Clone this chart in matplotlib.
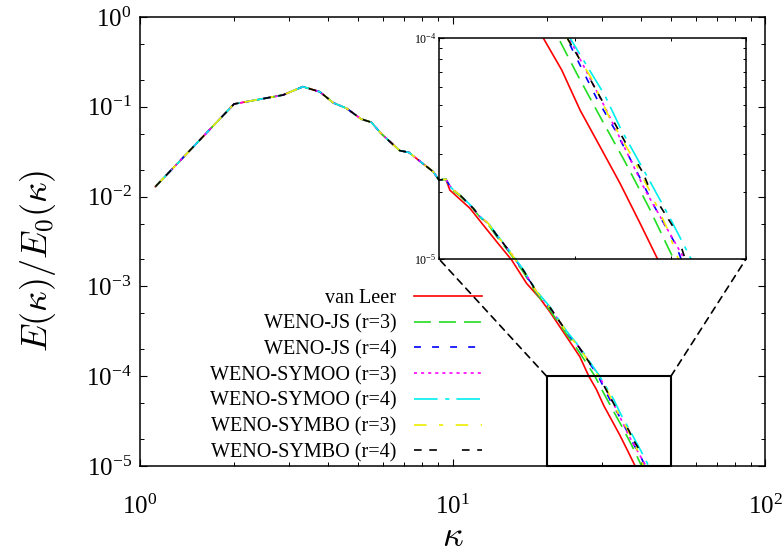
import matplotlib
matplotlib.use("Agg")
import matplotlib.pyplot as plt
from matplotlib.ticker import LogLocator, NullFormatter
from matplotlib.patches import Rectangle, ConnectionPatch

plt.rcParams['font.family'] = ['Liberation Serif', 'DejaVu Serif']
plt.rcParams['mathtext.fontset'] = 'stix'
plt.rcParams['lines.scale_dashes'] = False
plt.rcParams['xtick.direction'] = 'in'
plt.rcParams['ytick.direction'] = 'in'
plt.rcParams['xtick.top'] = True
plt.rcParams['ytick.right'] = True

# ---------------- data ----------------
labels = ["van Leer", "WENO-JS (r=3)", "WENO-JS (r=4)", "WENO-SYMOO (r=3)",
          "WENO-SYMOO (r=4)", "WENO-SYMBO (r=3)", "WENO-SYMBO (r=4)"]
colors = ["#ff0000", "#22dd22", "#0000ff", "#ff00ff", "#00eeee", "#eeee00", "#000000"]

# part where all spectra coincide
k_low = [1.12, 2.0, 2.87, 3.32, 3.76, 4.15, 4.58, 5.1, 5.5, 5.93, 6.78, 7.25, 7.85, 8.68, 9.05, 9.52]
E_low = [0.0129, 0.1075, 0.1353, 0.1675, 0.147, 0.111, 0.0962, 0.0731, 0.0672, 0.0498,
         0.0325, 0.0311, 0.0249, 0.0189, 0.0153, 0.0156]

k_vanleer = [9.81, 11.37, 12.54, 13.84, 15.46, 17.26, 19.04, 20.5, 23.17, 25.55, 27.3,
             28.85, 30.47, 32.35, 34.33, 36.45, 38.4, 40.0]
E_vanleer = [0.0118, 0.00741, 0.00483, 0.00315, 0.00197, 0.00108, 0.000737, 0.00052,
             0.000275, 0.000165, 1.0e-4, 7.16e-5, 4.72e-5, 3.22e-5, 2.2e-5, 1.45e-5, 1.0e-5, 7.5e-6]

k_js3 = [9.9, 10.56, 11.65, 12.24, 13.01, 13.84, 15.26, 16.84, 18.58, 20.6, 23.17, 25.55,
         28.56, 30.16, 32.34, 34.85, 37.36, 39.86, 40.3, 42.0]
E_js3 = [0.0121, 0.0102, 0.0073, 0.0059, 0.0049, 0.0036, 0.00235, 0.00145, 0.00083, 0.00053,
         0.000295, 0.000182, 1.0e-4, 6.92e-5, 4.41e-5, 2.75e-5, 1.73e-5, 1.08e-5, 1.0e-5, 7.7e-6]

k_js4 = [9.93, 10.56, 11.65, 12.24, 13.01, 13.84, 15.26, 16.84, 18.58, 20.6, 23.17, 25.55,
         29.28, 30.01, 32.02, 33.82, 36.0, 38.1, 40.5, 41.2, 43.0]
E_js4 = [0.0123, 0.0104, 0.0074, 0.00595, 0.00502, 0.00372, 0.00242, 0.0015, 0.00086, 0.000565,
         0.00031, 0.000202, 1.0e-4, 8.38e-5, 5.33e-5, 3.84e-5, 2.53e-5, 1.71e-5, 1.17e-5, 1.0e-5, 7.7e-6]

k_symoo3 = [9.93, 10.56, 11.65, 12.24, 13.01, 13.84, 15.26, 16.84, 18.58, 20.6, 23.17, 25.55,
            29.5, 32.96, 37.0, 41.27, 41.6, 43.5]
E_symoo3 = [0.0124, 0.0104, 0.0074, 0.006, 0.00505, 0.00374, 0.00244, 0.00152, 0.00087, 0.00057,
            0.000312, 0.000205, 1.0e-4, 4.72e-5, 2.05e-5, 1.05e-5, 1.0e-5, 7.6e-6]

k_symoo4 = [9.93, 10.56, 11.65, 12.24, 13.01, 13.84, 15.26, 16.84, 18.58, 20.6, 23.17, 25.55,
            29.57, 32.79, 34.46, 37.55, 40.06, 42.44, 44.0]
E_symoo4 = [0.0124, 0.0105, 0.0075, 0.006, 0.0051, 0.00378, 0.00247, 0.00154, 0.00089, 0.00058,
            0.000318, 0.00021, 1.0e-4, 5.52e-5, 3.84e-5, 2.24e-5, 1.48e-5, 1.0e-5, 7.8e-6]

k_symbo3 = [9.93, 10.56, 11.65, 12.24, 13.01, 13.84, 15.26, 16.84, 18.58, 20.6, 23.17, 25.55,
            29.3, 31.5, 33.22, 35.5, 37.55, 39.5, 40.85, 42.5]
E_symbo3 = [0.0123, 0.0104, 0.0074, 0.006, 0.00503, 0.00373, 0.00243, 0.00151, 0.00087, 0.000568,
            0.000311, 0.000203, 1.0e-4, 6.6e-5, 4.4e-5, 2.95e-5, 2.02e-5, 1.38e-5, 1.0e-5, 7.7e-6]

k_symbo4 = [9.93, 10.56, 11.65, 12.24, 13.01, 13.84, 15.26, 16.84, 18.58, 20.6, 23.17, 25.55,
            29.42, 30.3, 31.7, 32.6, 35.03, 36.8, 37.55, 40.6, 41.7, 43.5]
E_symbo4 = [0.01237, 0.01042, 0.00741, 0.00597, 0.00505, 0.00374, 0.00244, 0.00152, 0.000873,
            0.00057, 0.000313, 0.000205, 9.8e-5, 8.23e-5, 6.13e-5, 5.15e-5, 3.28e-5, 2.44e-5,
            2.05e-5, 1.33e-5, 1.0e-5, 7.5e-6]

tails_k = [k_vanleer, k_js3, k_js4, k_symoo3, k_symoo4, k_symbo3, k_symbo4]
tails_E = [E_vanleer, E_js3, E_js4, E_symoo3, E_symoo4, E_symbo3, E_symbo4]

styles = [
    dict(linestyle='-'),
    dict(dashes=(12.2, 5.8)),
    dict(dashes=(5.0, 8.0)),
    dict(dashes=(2.2, 2.9)),
    dict(dashes=(17.0, 5.5, 3.0, 5.0)),
    dict(dashes=(9.0, 9.0, 3.0, 9.0)),
    dict(dashes=(5.5, 5.5, 5.5, 18.0)),
]

# ---------------- figure ----------------
W, H = 783, 556
fig = plt.figure(figsize=(W / 100, H / 100), dpi=100)
L, R, T, B = 140, 765, 17, 466
ax = fig.add_axes([L / W, 1 - B / H, (R - L) / W, (B - T) / H])

def style_axes(a, major_len, minor_len):
    for s in a.spines.values():
        s.set_linewidth(1.1)
    a.tick_params(which='major', length=major_len, width=0.8)
    a.tick_params(which='minor', length=minor_len, width=0.7)

for kk, ee, c, st, lab in zip(tails_k, tails_E, colors, styles, labels):
    ax.plot(k_low + kk, E_low + ee, color=c, lw=1.2, label=lab, **st)

ax.set_xscale('log')
ax.set_yscale('log')
ax.set_xlim(1, 100)
ax.set_ylim(1e-5, 1)
ax.yaxis.set_minor_locator(LogLocator(base=10, subs=(2.0, 5.0)))
ax.yaxis.set_minor_formatter(NullFormatter())
ax.xaxis.set_minor_formatter(NullFormatter())
style_axes(ax, 5, 2.9)
ax.tick_params(axis='x', which='major', labelsize=18, pad=21)
ax.tick_params(axis='y', which='major', labelsize=18, pad=6)

ax.set_xlabel(r'$\kappa$', fontsize=26, math_fontfamily='cm')
ax.set_ylabel(r'$E(\kappa)/E_0(\kappa)$', fontsize=26, math_fontfamily='cm')
ax.xaxis.set_label_coords(0.5, (B - 538) / (B - T))
ax.xaxis.label.set_va('center')
ax.yaxis.set_label_coords((58 - L) / (R - L), (B - 261) / (B - T))

leg = ax.legend(loc='upper right', bbox_to_anchor=((482 - L) / (R - L), (B - 289) / (B - T)),
                frameon=False, markerfirst=False, fontsize=14.5, handlelength=3.4,
                handletextpad=0.85, labelspacing=0.32, borderpad=0, borderaxespad=0)

# zoom rectangle
x0, x1, y0, y1 = 20, 50, 1e-5, 1e-4
ax.add_patch(Rectangle((x0, y0), x1 - x0, y1 - y0, fill=False, ec='black', lw=1.5,
                       clip_on=False, zorder=5))

# inset (transparent background)
iL, iR, iT, iB = 439, 746, 38, 259
axins = fig.add_axes([iL / W, 1 - iB / H, (iR - iL) / W, (iB - iT) / H])
axins.patch.set_alpha(0.0)
for kk, ee, c, st, lab in zip(tails_k, tails_E, colors, styles, labels):
    axins.plot(k_low + kk, E_low + ee, color=c, lw=1.2, **st)
axins.set_xscale('log')
axins.set_yscale('log')
axins.set_xlim(x0, x1)
axins.set_ylim(y0, y1)
axins.xaxis.set_major_formatter(NullFormatter())
axins.xaxis.set_minor_formatter(NullFormatter())
axins.yaxis.set_minor_formatter(NullFormatter())
style_axes(axins, 3.5, 2.0)
axins.tick_params(which='major', labelsize=8.5, pad=2)

for (xa, xb) in [((x0, y1), (0, 0)), ((x1, y1), (1, 0))]:
    con = ConnectionPatch(xyA=xa, coordsA=ax.transData, xyB=xb, coordsB=axins.transAxes,
                          color='black', lw=1.2, linestyle=(0, (5, 4)))
    fig.add_artist(con)

fig.savefig('out.png', dpi=100)
